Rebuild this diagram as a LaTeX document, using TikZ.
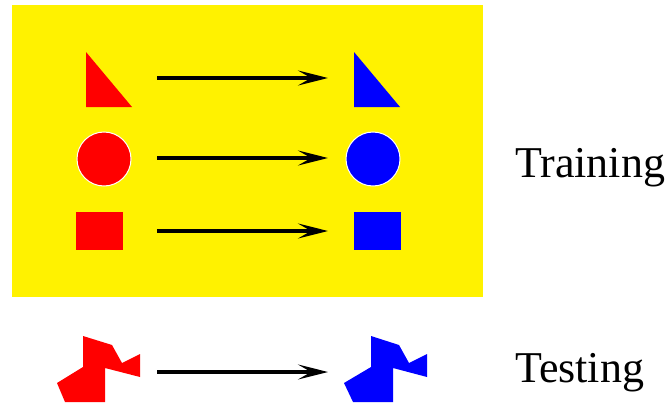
\documentclass[tikz,border=0pt]{standalone}
\usepackage{fontspec}
\setmainfont{Liberation Serif}
\usetikzlibrary{arrows.meta}
\begin{document}
\begin{tikzpicture}[x=1pt,y=-1pt,
        arr/.style={line width=3.2pt,-{Stealth[length=30pt,width=15pt,inset=13pt]}},
        lbl/.style={anchor=base west,inner sep=0pt,font=\fontsize{44}{50}\selectfont}]
                \useasboundingbox (0,0) rectangle (668,404);
                \fill[yellow] (12,5) rectangle (483,297);
                \fill[red] (86,52) -- (86,107) -- (132,107) -- cycle;
                \fill[blue] (354,52) -- (354,107) -- (400,107) -- cycle;
                \filldraw[fill=red,draw=white,line width=1pt] (104,159) circle (27);
                \filldraw[fill=blue,draw=white,line width=1pt] (373,159) circle (27);
                \fill[red] (76,212) rectangle (123,250);
                \fill[blue] (354,212) rectangle (401,250);
                \fill[red] (83,336) -- (112,345) -- (122,363) -- (140,354) -- (140,377) -- (105,368)
                    -- (105,402) -- (65,402) -- (57,383) -- (83,367) -- cycle;
                \fill[blue] (371,336) -- (399,345) -- (409,363) -- (427,354) -- (427,377) -- (393,368)
                    -- (393,402) -- (353,402) -- (344,383) -- (371,367) -- cycle;
                \coordinate (tri-a) at (157,78);   \coordinate (tri-b) at (328,78);
                \coordinate (circ-a) at (157,158); \coordinate (circ-b) at (328,158);
                \coordinate (sq-a) at (157,231);   \coordinate (sq-b) at (328,231);
                \coordinate (test-a) at (157,372); \coordinate (test-b) at (328,372);
                \draw[arr] (tri-a) -- (tri-b);
                \draw[arr] (circ-a) -- (circ-b);
                \draw[arr] (sq-a) -- (sq-b);
                \draw[arr] (test-a) -- (test-b);
                \node[lbl] (training) at (515,177) {Training};
                \node[lbl] (testing) at (515,382) {Testing};
            \end{tikzpicture}
\end{document}
